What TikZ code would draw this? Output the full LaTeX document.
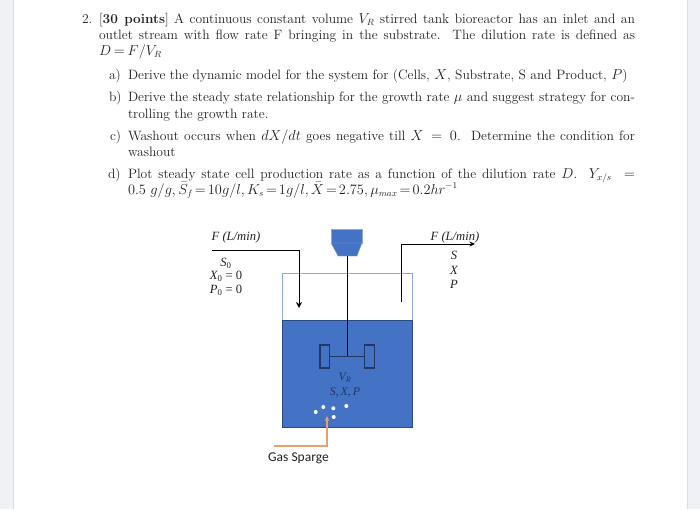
\documentclass[tikz,border=0pt]{standalone}
\usepackage{amsmath}
\usepackage{fontspec}
\usetikzlibrary{arrows.meta}
\newfontfamily\calfont{Carlito}
\newfontfamily\mathlabel{Liberation Serif}
\definecolor{pagebg}{HTML}{F0F0F7}
\definecolor{pageedge}{HTML}{DCDCE2}
\definecolor{tankblue}{HTML}{4472C4}
\definecolor{tankedge}{HTML}{8FAADC}
\definecolor{navy}{HTML}{1F3864}
\definecolor{sparge}{HTML}{E8A070}
\definecolor{ink}{HTML}{222222}
\tikzset{
  x=1pt,y=-1pt,
  textline/.style={anchor=base west,inner sep=0pt,outer sep=0pt,text=ink,font=\fontsize{13.55}{16}\selectfont},
  flowlabel/.style={inner sep=0pt,text=ink,font=\fontsize{12.6}{14}\mathlabel\itshape},
  innerlabel/.style={inner sep=0pt,text=navy,font=\fontsize{11.8}{14}\mathlabel\itshape},
  pipe/.style={draw=black,line width=0.95pt},
  bubble/.style={circle,fill=white,inner sep=0pt,minimum size=4pt},
  paddle/.style={draw=navy,line width=1.1pt,fill=tankblue,inner sep=0pt,minimum width=9.5pt,minimum height=23pt},
}
\newcommand{\lineto}[2]{\hbox to #1pt{#2}}
\begin{document}
\begin{tikzpicture}
\useasboundingbox (0,0) rectangle (700,509);
\fill[pagebg] (0,0) rectangle (700,509);
\fill[white] (14,0) rectangle (687,509);
\draw[pageedge,line width=1pt] (13.5,0) -- (13.5,509);
\draw[pageedge,line width=1pt] (687.5,0) -- (687.5,509);

% Text
\node[textline] (num) at (82,23) {2.};
\node[textline] (l1) at (99,23) {\lineto{536}{[\textbf{30 points}] A continuous constant volume $V_R$ stirred tank bioreactor has an inlet and an}};
\node[textline] (l2) at (99,39) {\lineto{536}{outlet stream with flow rate F bringing in the substrate.\ \ The dilution rate is defined as}};
\node[textline] (l3) at (99,55) {\thickmuskip=3.5mu $D=F/V_R$};
\node[textline] (al) at (109,79) {a)};
\node[textline] (a1) at (128,79) {Derive the dynamic model for the system for (Cells, $X$, Substrate, S and Product, $P$)};
\node[textline] (bl) at (109,101) {b)};
\node[textline] (b1) at (128,101) {\lineto{507}{Derive the steady state relationship for the growth rate $\mu$ and suggest strategy for con-}};
\node[textline] (b2) at (128,118) {trolling the growth rate.};
\node[textline] (cl) at (110,140) {c)};
\node[textline] (c1) at (128,140) {\lineto{507}{Washout occurs when $dX/dt$ goes negative till $X\,=\,0$.\ \ Determine the condition for}};
\node[textline] (c2) at (128,156) {washout};
\node[textline] (dl) at (108,178) {d)};
\node[textline] (d1) at (128,178) {\lineto{507}{Plot steady state cell production rate as a function of the dilution rate $D$.\ \ $Y_{x/s}\ =$}};
\node[textline] (d2) at (128,194) {\thickmuskip=2.5mu \medmuskip=1mu $0.5\ g/g,\bar S_f=10g/l,K_s=1g/l,\bar X=2.75,\mu_{max}=0.2hr^{-1}$};

% Tank
\path[draw=tankedge,line width=1pt,fill=white] (282.5,273) rectangle (412.5,320);
\path[draw=navy!70!tankblue,line width=0.8pt,fill=tankblue] (282.5,320.5) rectangle (412.5,427);

% Motor
\fill[tankblue,draw=tankedge,line width=0.4pt] (331,229) rectangle (362,243);
\fill[tankblue,draw=tankedge,line width=0.4pt] (331,243) -- (362,243) -- (357,256) -- (338,256) -- cycle;

% Impeller
\coordinate (shafttop) at (347,256);
\coordinate (hub) at (347,356);
\node[paddle] (padL) at (324.7,356.5) {};
\node[paddle] (padR) at (369.5,356.5) {};
\draw[pipe] (shafttop) -- (hub);
\draw[navy,line width=1.1pt] (padL.east) -- (padR.west);

% Pipes
\coordinate (inS) at (212,250.5);
\coordinate (inC) at (299,250.5);
\coordinate (inE) at (299,308);
\draw[pipe,-{Stealth[length=6pt,width=6pt]}] (inS) -- (inC) -- (inE);
\coordinate (outS) at (401,302);
\coordinate (outC) at (401,244);
\coordinate (outE) at (475,244);
\draw[pipe,-{Stealth[length=5.5pt,width=5pt]}] (outS) -- (outC) -- (outE);

% Flow labels
\node[flowlabel] (fl) at (236,237) {F (L/min)};
\node[flowlabel] (fr) at (455,237) {F (L/min)};
\node[flowlabel] (s0) at (226,263) {S\textsubscript{\upshape 0}};
\node[flowlabel] (x0) at (226,276.5) {X\textsubscript{\upshape 0} {\upshape = 0}};
\node[flowlabel] (p0) at (226,290.5) {P\textsubscript{\upshape 0} {\upshape = 0}};
\node[flowlabel] (so) at (454,255) {S};
\node[flowlabel] (xo) at (454,270) {X};
\node[flowlabel] (po) at (454,284) {P};
\node[innerlabel] (vr) at (345,378) {V\textsubscript{R}};
\node[innerlabel] (sxp) at (345,392) {S,\,X,\,P};

% Bubbles
\node[bubble] (b1a) at (315.7,412) {};
\node[bubble] (b2a) at (323.3,407) {};
\node[bubble] (b3a) at (333.3,408.3) {};
\node[bubble] (b4a) at (346.3,406) {};
\node[bubble] (b5a) at (333.7,417) {};

% Sparger
\coordinate (spS) at (274,446);
\coordinate (spC) at (327,446);
\coordinate (spE) at (327,416);
\draw[sparge,line width=1.1pt,-{Stealth[length=5pt,width=4.5pt]}] (spS) -- (spC) -- (spE);
\node[inner sep=0pt,text=ink,font=\fontsize{13.5}{16}\calfont] (gas) at (298.5,458) {Gas Sparge};
\end{tikzpicture}
\end{document}
